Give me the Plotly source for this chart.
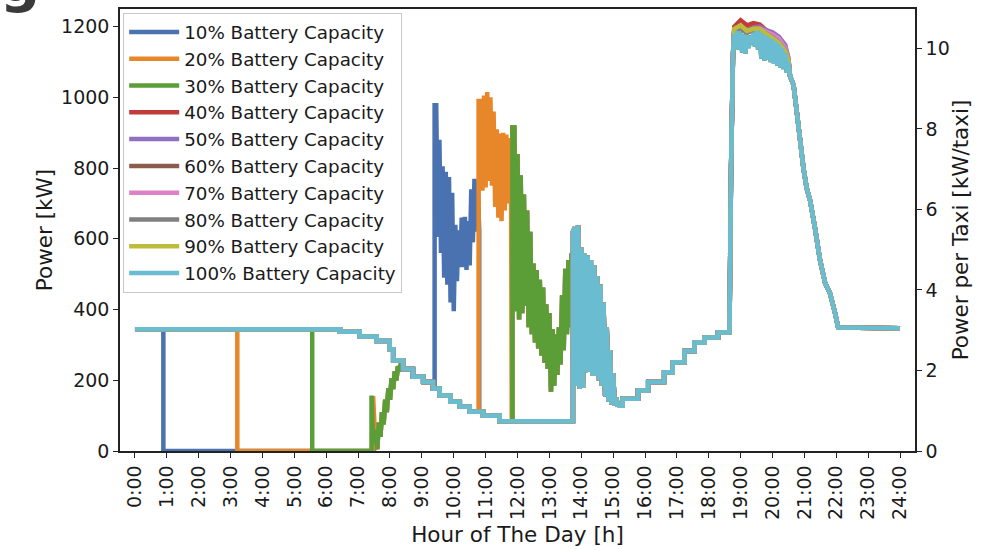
import plotly.graph_objects as go

# ---------------------------------------------------------------- data (kW)
HOURS = list(range(25))
HOUR_LABELS = [f"{h}:00" for h in HOURS]
LEFT_TICKS = [0, 200, 400, 600, 800, 1000, 1200]
RIGHT_TICKS = [0, 2, 4, 6, 8, 10]

CAPACITIES = [10, 20, 30, 40, 50, 60, 70, 80, 90, 100]
SERIES_NAMES = [f"{c}% Battery Capacity" for c in CAPACITIES]
COLORS = ["#4a72b0", "#e8862a", "#5b9e38", "#c23b3b", "#9170bf",
          "#8c5b4c", "#dd80c6", "#808080", "#bdbb3c", "#6abcd0"]

NIGHT_KW = 344                      # overnight charging level, 0:00 onwards
dropout_h = {10: 0.89, 20: 3.21, 30: 5.56}   # small fleets stop night charging

# morning staircase shared by all fleets (step start hour, level)
am_stair_h = [6.43, 7.05, 7.58, 7.99, 8.10, 8.41, 8.72, 9.04, 9.35, 9.56,
              9.90, 10.19, 10.50, 10.92, 11.44]
am_stair_kw = [337, 324, 311, 288, 256, 232, 210, 195, 176, 157,
               139, 125, 111, 100, 84]
am_stair_end_h = 13.74

# restart ramp of the 10-30 % fleets (peaks every 0.1 h, troughs in between)
ramp_h0 = 7.55
ramp_top_kw = [60, 80, 110, 145, 178, 205, 225, 240, 250]
ramp_bottom_kw = [5, 40, 75, 110, 145, 175, 200, 225, 235]
spike_orange = (7.47, 155)
spike_green = (7.42, 157)

# late-morning charging bursts (peaks every 0.1 h, troughs in between)
blue_band_h0 = 9.45
blue_band_top_kw = [978, 880, 805, 790, 775, 730, 640, 624, 660, 662, 650, 740, 770, 760]
blue_band_bottom_kw = [605, 560, 490, 470, 420, 395, 480, 520, 520, 512, 525, 590, 620, 620]

orange_band_h0 = 10.85
orange_band_top_kw = [990, 1005, 1015, 1000, 960, 910, 898, 900, 895, 885]
orange_band_bottom_kw = [736, 745, 764, 750, 690, 660, 650, 680, 700, 690]

green_band_h0 = 11.90
green_band_top_kw = [915, 840, 780, 725, 680, 620, 530, 512, 484, 462,
                     415, 390, 345, 330, 350, 440, 515, 540, 560]
green_band_bottom_kw = [395, 372, 390, 410, 350, 330, 307, 290, 270, 250,
                        232, 168, 185, 215, 245, 285, 330, 350, 360]

# early-afternoon burst, all fleets
pm_band_h0 = 13.80
pm_band_top_kw = [632, 638, 575, 560, 552, 540, 525, 495, 470, 420, 350, 285, 220, 150]
pm_band_bottom_kw = [185, 176, 178, 223, 225, 213, 213, 200, 185, 155, 140, 132, 128, 126]

# afternoon staircase
pm_stair_h = [15.15, 15.30, 15.78, 16.10, 16.60, 16.87, 17.24, 17.55, 17.87, 18.29]
pm_stair_kw = [128, 148, 171, 195, 223, 251, 283, 307, 321, 335]
pm_stair_end_h = 18.65

# evening rise and peak
rise_h = [18.65, 18.70, 18.76]
rise_kw = [335, 800, 1120]
eve_band_h0 = 18.80
eve_band_top_kw = [1180, 1188, 1183, 1178, 1174, 1174, 1183, 1188, 1186,
                   1178, 1174, 1168, 1164, 1157, 1150, 1140, 1125, 1100]
eve_band_bottom_kw = [1137, 1135, 1127, 1125, 1140, 1150, 1145, 1135, 1110,
                      1105, 1108, 1100, 1095, 1090, 1085, 1080, 1070, 1060]

# upper edge of the evening peak for fleets that draw slightly more
eve_top_h = [18.8, 19.0, 19.2, 19.4, 19.6, 19.8, 20.0, 20.2, 20.4, 20.5]
eve_top_kw = {
    20: [1196, 1206, 1192, 1198, 1196, 1184, 1172, 1158, 1132, 1104],
    40: [1200, 1218, 1204, 1210, 1206, 1190, 1180, 1164, 1136, 1106],
    50: [1190, 1198, 1190, 1198, 1200, 1190, 1184, 1172, 1148, 1112],
    60: [1190, 1198, 1188, 1196, 1196, 1184, 1174, 1160, 1135, 1106],
    70: [1188, 1196, 1186, 1194, 1195, 1186, 1178, 1166, 1140, 1108],
    80: [1186, 1194, 1182, 1190, 1192, 1180, 1170, 1156, 1132, 1104],
    90: [1194, 1204, 1188, 1194, 1194, 1180, 1168, 1154, 1130, 1104],
}

# evening decline and overnight level
dec_h = [20.55, 20.66, 20.76, 20.87, 20.97, 21.07, 21.18, 21.33, 21.49,
         21.65, 21.80, 21.96, 22.06, 24.0]
dec_kw = [1060, 1035, 960, 876, 800, 744, 708, 632, 540, 475, 447, 391, 349, 347]

TAXIS_KW_PER_UNIT = 1250 / 10.98    # right axis: power per taxi


# ---------------------------------------------------------------- helpers
def band(h0, tops, bottoms, step=0.1):
    xs, ys = [], []
    for i, (t, b) in enumerate(zip(tops, bottoms)):
        h = round(h0 + i * step, 3)
        xs += [h, round(h + step / 2, 3)]
        ys += [t, b]
    return xs, ys


def stairs(hs, levels, start, end):
    xs, ys = [], []
    bounds = hs[1:] + [end]
    for h, nxt, v in zip(hs, bounds, levels):
        if nxt <= start or h >= end:
            continue
        a, b = max(h, start), min(nxt, end)
        xs += [a, b]
        ys += [v, v]
    return xs, ys


def join(*pieces):
    xs, ys = [], []
    for px, py in pieces:
        xs += list(px)
        ys += list(py)
    return xs, ys


def afternoon_onwards(cap):
    pieces = [band(pm_band_h0, pm_band_top_kw, pm_band_bottom_kw),
              stairs(pm_stair_h, pm_stair_kw, 15.15, pm_stair_end_h),
              (rise_h, rise_kw)]
    if cap in eve_top_kw:
        pieces.append((eve_top_h, eve_top_kw[cap]))
    else:
        pieces.append(band(eve_band_h0, eve_band_top_kw, eve_band_bottom_kw))
    pieces.append((dec_h, dec_kw))
    return pieces


def small_fleet(cap):
    d = dropout_h[cap]
    pieces = [([0.0, d, d], [NIGHT_KW, NIGHT_KW, 0])]
    if cap == 10:
        pieces.append(([7.5], [0]))
    elif cap == 20:
        pieces.append(([spike_orange[0], spike_orange[0], 7.52],
                       [0, spike_orange[1], 60]))
    else:
        pieces.append(([spike_green[0], spike_green[0], 7.47],
                       [0, spike_green[1], 20]))
    pieces.append(band(ramp_h0, ramp_top_kw, ramp_bottom_kw))
    if cap == 10:
        pieces.append(stairs(am_stair_h, am_stair_kw, 8.41, 9.40))
        pieces.append(([9.40], [blue_band_top_kw[0]]))
        pieces.append(band(blue_band_h0, blue_band_top_kw, blue_band_bottom_kw))
        pieces.append(([10.80], [111]))
        pieces.append(stairs(am_stair_h, am_stair_kw, 10.80, 11.84))
    elif cap == 20:
        pieces.append(stairs(am_stair_h, am_stair_kw, 8.41, 10.78))
        pieces.append(([10.78], [orange_band_top_kw[0]]))
        pieces.append(band(orange_band_h0, orange_band_top_kw, orange_band_bottom_kw))
        pieces.append(([11.82], [84]))
        pieces.append(stairs(am_stair_h, am_stair_kw, 11.82, 11.84))
    else:
        pieces.append(stairs(am_stair_h, am_stair_kw, 8.41, 11.84))
    pieces.append(([11.84], [green_band_top_kw[0]]))
    pieces.append(band(green_band_h0, green_band_top_kw, green_band_bottom_kw))
    pieces += afternoon_onwards(cap)
    return join(*pieces)


def large_fleet(cap):
    pieces = [([0.0], [NIGHT_KW]),
              stairs([0.0] + am_stair_h, [NIGHT_KW] + am_stair_kw, 0.0, am_stair_end_h),
              ([am_stair_end_h], [620])]
    pieces += afternoon_onwards(cap)
    return join(*pieces)


# ---------------------------------------------------------------- figure
FONT = "DejaVu Sans"
INK = "#1a1a1a"

fig = go.Figure()
for cap, name, color in zip(CAPACITIES, SERIES_NAMES, COLORS):
    xs, ys = small_fleet(cap) if cap in dropout_h else large_fleet(cap)
    fig.add_trace(go.Scatter(x=xs, y=ys, mode="lines", name=name,
                             line=dict(color=color, width=4.5, simplify=False),
                             hoverinfo="skip"))

# secondary scale: power per taxi
fig.add_trace(go.Scatter(x=[], y=[], yaxis="y2", showlegend=False,
                         hoverinfo="skip"))

axis_common = dict(showline=True, linecolor="#222222", linewidth=1.5,
                   ticks="outside", ticklen=5, tickwidth=1.2,
                   tickcolor="#222222", showgrid=False, zeroline=False,
                   tickfont=dict(family=FONT, size=19, color=INK))

fig.update_layout(
    width=984, height=550,
    margin=dict(l=120, r=69, t=7, b=97),
    paper_bgcolor="white", plot_bgcolor="white",
    font=dict(family=FONT, color=INK),
    xaxis=dict(range=[-0.47, 24.47], tickvals=HOURS, ticktext=HOUR_LABELS,
               tickangle=-90, mirror=True,
               title=dict(text="Hour of The Day [h]", standoff=8,
                          font=dict(family=FONT, size=21.5, color=INK)),
               **axis_common),
    yaxis=dict(range=[0, 1250], tickvals=LEFT_TICKS,
               title=dict(text="Power [kW]", standoff=3,
                          font=dict(family=FONT, size=21.5, color=INK)),
               **axis_common),
    yaxis2=dict(range=[0, 1250 / TAXIS_KW_PER_UNIT], tickvals=RIGHT_TICKS,
                overlaying="y", side="right", anchor="x",
                title=dict(text="Power per Taxi [kW/taxi]", standoff=4,
                           font=dict(family=FONT, size=21.5, color=INK)),
                **axis_common),
    legend=dict(x=0.004, y=0.992, xanchor="left", yanchor="top",
                itemwidth=50,
                bgcolor="rgba(255,255,255,0.85)", bordercolor="#c8c8c8",
                borderwidth=1, font=dict(family=FONT, size=18.3, color=INK)),
    showlegend=True,
    annotations=[dict(text="<b>g</b>", xref="paper", yref="paper",
                      x=-0.153, y=0.985, xanchor="left", yanchor="bottom",
                      showarrow=False,
                      font=dict(family=FONT, size=56, color="#3a3a3a"))],
)

fig.write_html("out.html")
